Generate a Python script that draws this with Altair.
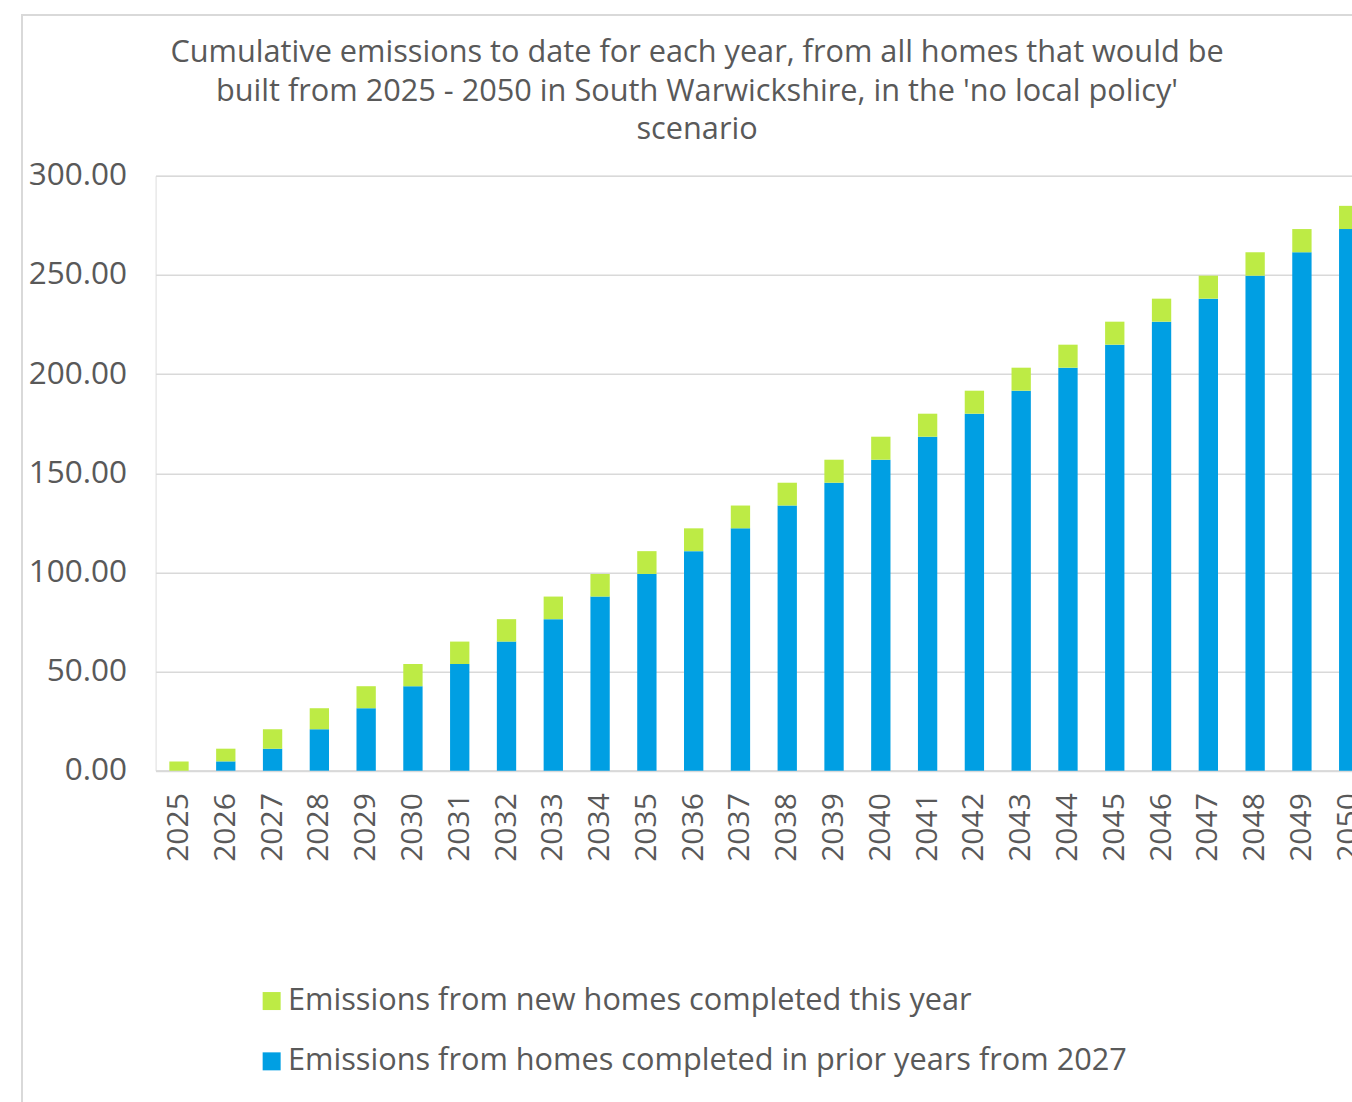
import altair as alt
import pandas as pd

years = [str(y) for y in range(2025, 2051)]
prior = [0, 4.7, 11.1, 20.9, 31.5, 42.6, 53.8, 65.1, 76.4, 87.8, 99.2, 110.7, 122.2,
         133.7, 145.2, 156.8, 168.4, 180.0, 191.6, 203.2, 214.8, 226.4, 238.0, 249.6,
         261.4, 273.1]
new = [4.7, 6.4, 9.8, 10.6, 11.1, 11.2, 11.3, 11.3, 11.4, 11.4, 11.5, 11.5, 11.5,
       11.5, 11.6, 11.6, 11.6, 11.6, 11.6, 11.6, 11.6, 11.6, 11.6, 11.8, 11.7, 11.7]
series = ["Emissions from new homes completed this year",
          "Emissions from homes completed in prior years from 2027"]
colors = ["#bdeb45", "#009fe3"]
title_lines = ["Cumulative emissions to date for each year, from all homes that would be",
               "built from 2025 - 2050 in South Warwickshire, in the 'no local policy'",
               "scenario"]

rows = []
for i, y in enumerate(years):
    rows.append({"year": y, "series": series[1], "value": prior[i], "ord": 0})
    rows.append({"year": y, "series": series[0], "value": new[i], "ord": 1})
df = pd.DataFrame(rows)

FONT = "Open Sans"
GREY = "#595959"
PW = 1196.4
PH = 595
XRANGE = 1216.5

bars = alt.Chart(df).mark_bar().encode(
    x=alt.X("year:N", sort=years, title=None,
            scale=alt.Scale(range=[0, XRANGE], paddingInner=0.587, paddingOuter=0.2935),
            axis=alt.Axis(labelAngle=-90, labelFontSize=30, labelColor=GREY, labelFont=FONT,
                          ticks=False, labelPadding=22, domainColor="#d9d9d9", domainWidth=2,
                          grid=False)),
    y=alt.Y("value:Q", stack="zero", title=None,
            scale=alt.Scale(domain=[0, 300], nice=False),
            axis=alt.Axis(values=[0, 50, 100, 150, 200, 250, 300], format=".2f",
                          labelFontSize=31.5, labelColor=GREY, labelFont=FONT, ticks=False,
                          domain=False, labelPadding=29, gridColor="#d9d9d9", gridWidth=1.5)),
    color=alt.Color("series:N", scale=alt.Scale(domain=series, range=colors),
                    legend=alt.Legend(title=None, orient="none", legendX=100.7, legendY=810,
                                      direction="vertical", symbolType="square",
                                      symbolSize=324, symbolStrokeWidth=0, labelFontSize=30.7,
                                      labelFont=FONT, labelColor=GREY, labelLimit=1200,
                                      labelOffset=1, rowPadding=28.3, padding=0)),
    order=alt.Order("ord:Q"),
)

frame = alt.Chart(alt.Data(values=[{}])).mark_rect(
    fill="transparent", stroke="#d9d9d9", strokeWidth=2
).encode(
    x=alt.value(-133.6), x2=alt.value(XRANGE), y=alt.value(-160.7), y2=alt.value(1000)
)

chart = alt.layer(frame, bars).properties(
    width=PW, height=PH,
    title=alt.TitleParams(text=title_lines, anchor="middle", frame="bounds", fontSize=30.7,
                          font=FONT, fontWeight="normal", color=GREY, lineHeight=38.5,
                          offset=-132),
    autosize=alt.AutoSizeParams(type="none"),
    padding={"left": 155.6, "top": 175.7, "right": 0, "bottom": 331.3},
).configure_view(stroke=None).configure(background="white")

chart.save("out.html", embed_options={"renderer": "svg", "actions": False})
